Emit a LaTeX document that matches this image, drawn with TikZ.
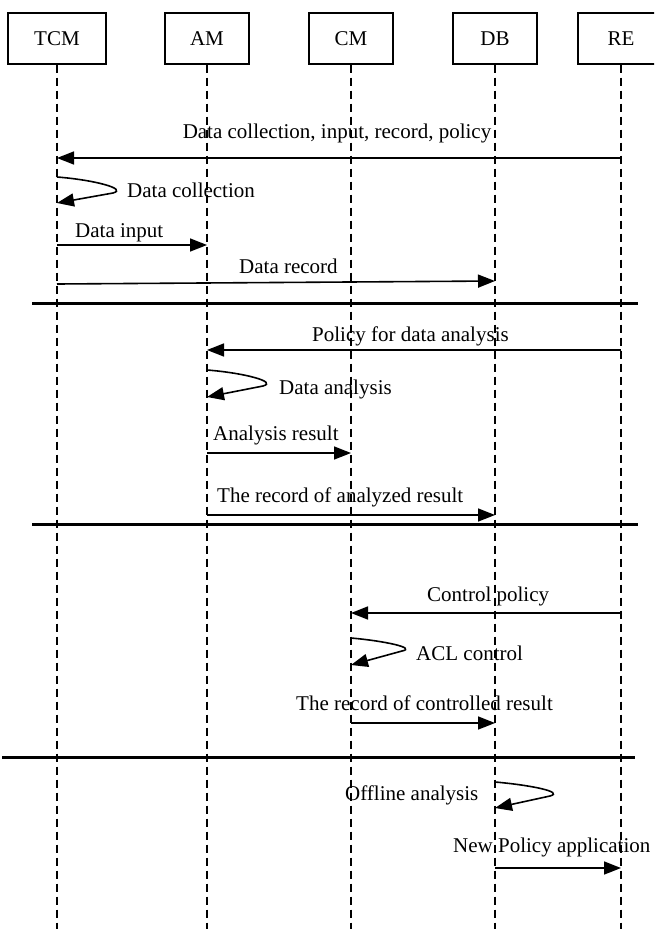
\documentclass[tikz,border=0pt]{standalone}
\usepackage{fontspec}
\setmainfont{Liberation Serif}
\usetikzlibrary{arrows.meta}
\begin{document}
\begin{tikzpicture}[x=1pt,y=-1pt,
  font=\fontsize{21}{25}\selectfont,
  actor/.style={draw, line width=1.4pt, minimum height=51pt, inner sep=0pt},
  life/.style={line width=1.5pt, dash pattern=on 8pt off 5pt},
  tip/.style={-{Triangle[length=17pt,width=13pt]}},
  msg/.style={line width=1.6pt, tip},
  loopmsg/.style={line width=1.6pt, tip},
  sep/.style={line width=3pt},
  lbl/.style={anchor=west, inner sep=0pt, text height=14pt, text depth=4pt}]
\clip (0,0) rectangle (654,929);
\useasboundingbox (0,0) rectangle (654,929);
% actors
\node[actor, minimum width=98pt] (tcm) at (57,38.5) {TCM};
\node[actor, minimum width=84pt] (am) at (207,38.5) {AM};
\node[actor, minimum width=84pt] (cm) at (351,38.5) {CM};
\node[actor, minimum width=84pt] (db) at (495,38.5) {DB};
\node[actor, minimum width=86pt] (re) at (621,38.5) {RE};
% lifeline ends
\coordinate (tcmE) at (57,929);
\coordinate (amE) at (207,929);
\coordinate (cmE) at (351,929);
\coordinate (dbE) at (495,929);
\coordinate (reE) at (621,929);
\draw[life] (tcm.south) -- (tcmE);
\draw[life] (am.south) -- (amE);
\draw[life] (cm.south) -- (cmE);
\draw[life] (db.south) -- (dbE);
\draw[life] (re.south) -- (reE);
% separators
\coordinate (s1a) at (32,303); \coordinate (s1b) at (638,303);
\coordinate (s2a) at (32,524); \coordinate (s2b) at (638,524);
\coordinate (s3a) at (2,757); \coordinate (s3b) at (635,757);
\draw[sep] (s1a) -- (s1b);
\draw[sep] (s2a) -- (s2b);
\draw[sep] (s3a) -- (s3b);
% phase 1
\draw[msg] (re |- 0,158) -- (tcm |- 0,158);
\node[anchor=center, inner sep=0pt] (t1) at (337,133) {Data collection, input, record, policy};
\draw[loopmsg] (tcm |- 0,177) .. controls (95,180) and (128,189) .. (113,193) -- (tcm |- 0,203);
\node[lbl] (t2) at (127,192) {Data collection};
\node[lbl] (t3) at (75,232) {Data input};
\draw[msg] (tcm |- 0,245) -- (am |- 0,245);
\node[lbl] (t4) at (239,268) {Data record};
\coordinate (dr1) at (57,284); \coordinate (dr2) at (495,281);
\draw[msg] (dr1) -- (dr2);
% phase 2
\node[lbl] (t5) at (312,336) {Policy for data analysis};
\draw[msg] (re |- 0,350) -- (am |- 0,350);
\draw[loopmsg] (am |- 0,370) .. controls (245,373) and (278,382) .. (263,386) -- (am |- 0,397);
\node[lbl] (t6) at (279,389) {Data analysis};
\node[lbl] (t7) at (213,435) {Analysis result};
\draw[msg] (am |- 0,453) -- (cm |- 0,453);
\node[lbl] (t8) at (217,497) {The record of analyzed result};
\draw[msg] (am |- 0,515) -- (db |- 0,515);
% phase 3
\node[lbl] (t9) at (427,596) {Control policy};
\draw[msg] (re |- 0,613) -- (cm |- 0,613);
\draw[loopmsg] (cm |- 0,638) .. controls (385,641) and (417,648) .. (402,651) -- (cm |- 0,665);
\node[lbl] (t10) at (416,655) {ACL control};
\node[lbl, anchor=east] (t11) at (553,705) {The record of controlled result};
\draw[msg] (cm |- 0,723) -- (db |- 0,723);
% phase 4
\draw[loopmsg] (db |- 0,782) .. controls (530,785) and (565,792) .. (550,796) -- (db |- 0,808);
\node[lbl] (t12) at (345,795) {Offline analysis};
\node[lbl] (t13) at (453,847) {New Policy application};
\draw[msg] (db |- 0,868) -- (re |- 0,868);
\end{tikzpicture}
\end{document}
